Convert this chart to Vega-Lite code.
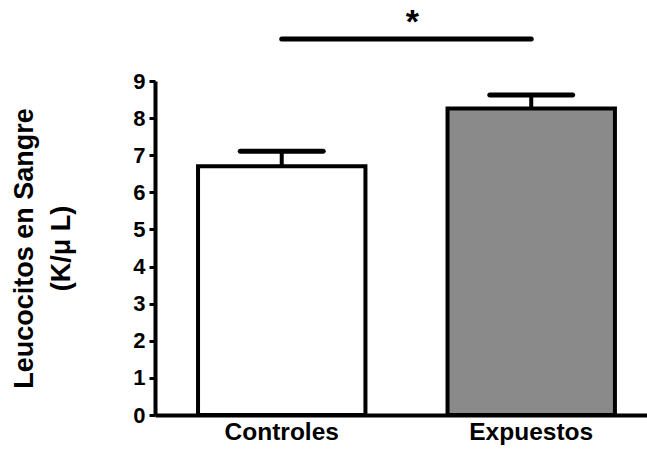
{
  "$schema": "https://vega.github.io/schema/vega-lite/v6.json",
  "width": 492,
  "height": 334,
  "autosize": {"type": "none"},
  "padding": {"left": 155, "top": 81, "right": 0, "bottom": 41},
  "background": "white",
  "config": {
    "view": {"stroke": null},
    "font": "Liberation Sans",
    "axisY": {
      "grid": false,
      "domainColor": "black",
      "domainWidth": 4,
      "tickColor": "black",
      "tickWidth": 3,
      "tickSize": 6,
      "labelFont": "Liberation Sans",
      "labelFontWeight": "bold",
      "labelFontSize": 22,
      "labelColor": "black",
      "labelPadding": 4,
      "labelOverlap": false,
      "titleFont": "Liberation Sans",
      "titleFontWeight": "bold",
      "titleFontSize": 27,
      "titleColor": "black",
      "titleLineHeight": 37,
      "titlePadding": 57
    }
  },
  "datasets": {
    "bars": [
      {"grupo": "Controles", "media": 6.70, "superior": 7.11},
      {"grupo": "Expuestos", "media": 8.26, "superior": 8.62}
    ],
    "sig": [
      {"desde": "Controles", "hasta": "Expuestos", "nivel": 10.13, "marca": "*"}
    ]
  },
  "encoding": {
    "x": {
      "field": "grupo",
      "type": "nominal",
      "sort": ["Controles", "Expuestos"],
      "scale": {"paddingInner": 0.329, "paddingOuter": 0.1505, "align": 0.573},
      "axis": {
        "title": null,
        "ticks": false,
        "domainColor": "black",
        "domainWidth": 4,
        "labelAngle": 0,
        "labelFont": "Liberation Sans",
        "labelFontWeight": "bold",
        "labelFontSize": 24.5,
        "labelColor": "black",
        "labelPadding": 5
      }
    }
  },
  "layer": [
    {
      "data": {"name": "bars"},
      "mark": {"type": "bar", "stroke": "black", "strokeWidth": 4},
      "encoding": {
        "y": {
          "field": "media",
          "type": "quantitative",
          "scale": {"domain": [0, 9], "nice": false, "zero": true},
          "axis": {"values": [0, 1, 2, 3, 4, 5, 6, 7, 8, 9], "tickCount": 10, "labelOverlap": false, "labelFontSize": 22, "labelFontWeight": "bold", "title": ["Leucocitos en Sangre", "(K/μ L)"]}
        },
        "fill": {
          "field": "grupo",
          "type": "nominal",
          "scale": {"domain": ["Controles", "Expuestos"], "range": ["#ffffff", "#8a8a8a"]},
          "legend": null
        }
      }
    },
    {
      "data": {"name": "bars"},
      "mark": {"type": "rule", "strokeWidth": 4, "color": "black"},
      "encoding": {
        "y": {"field": "media", "type": "quantitative",
          "axis": {"values": [0, 1, 2, 3, 4, 5, 6, 7, 8, 9], "tickCount": 10, "labelOverlap": false, "labelFontSize": 22, "labelFontWeight": "bold", "title": ["Leucocitos en Sangre", "(K/μ L)"]}},
        "y2": {"field": "superior"}
      }
    },
    {
      "data": {"name": "bars"},
      "mark": {"type": "tick", "thickness": 5, "size": 88, "color": "black", "cornerRadius": 2.5, "opacity": 1},
      "encoding": {
        "y": {"field": "superior", "type": "quantitative",
          "axis": {"values": [0, 1, 2, 3, 4, 5, 6, 7, 8, 9], "tickCount": 10, "labelOverlap": false, "labelFontSize": 22, "labelFontWeight": "bold", "title": ["Leucocitos en Sangre", "(K/μ L)"]}}
      }
    },
    {
      "data": {"name": "sig"},
      "mark": {"type": "rule", "strokeWidth": 5, "strokeCap": "round", "color": "black"},
      "encoding": {
        "x": {"field": "desde", "type": "nominal"},
        "x2": {"field": "hasta"},
        "y": {"field": "nivel", "type": "quantitative",
          "axis": {"values": [0, 1, 2, 3, 4, 5, 6, 7, 8, 9], "tickCount": 10, "labelOverlap": false, "labelFontSize": 22, "labelFontWeight": "bold", "title": ["Leucocitos en Sangre", "(K/μ L)"]}}
      }
    },
    {
      "data": {"name": "sig"},
      "mark": {"type": "text", "fontSize": 34, "fontWeight": "bold", "font": "Liberation Sans", "color": "black", "baseline": "alphabetic", "dy": -6},
      "encoding": {
        "x": {"field": "desde", "type": "nominal", "bandPosition": 1.28},
        "y": {"field": "nivel", "type": "quantitative",
          "axis": {"values": [0, 1, 2, 3, 4, 5, 6, 7, 8, 9], "tickCount": 10, "labelOverlap": false, "labelFontSize": 22, "labelFontWeight": "bold", "title": ["Leucocitos en Sangre", "(K/μ L)"]}},
        "text": {"field": "marca"}
      }
    }
  ]
}
